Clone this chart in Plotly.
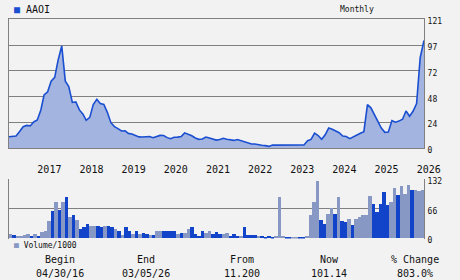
import pandas as pd
import plotly.graph_objects as go

# ---------------- data ----------------
ticker = "AAOI"
period = "Monthly"

price_dates = list(pd.date_range("2016-04-30", periods=119, freq=pd.offsets.MonthEnd()).strftime("%Y-%m-%d")) + ["2026-03-05"]
price = [10.9, 10.9, 11.5, 15.7, 20.3, 21.5, 21.0, 24.7, 26.5, 36.0, 50.0, 53.0,
         63.0, 66.5, 83.0, 96.0, 63.0, 58.0, 43.0, 43.5, 36.0, 32.0, 26.2, 29.0,
         41.0, 46.0, 42.0, 41.2, 33.5, 24.0, 20.3, 18.5, 16.2, 16.3, 14.0, 13.5,
         12.0, 10.7, 10.6, 10.6, 11.0, 10.0, 11.0, 12.1, 12.0, 10.0, 9.0, 10.3,
         10.5, 11.0, 14.5, 13.5, 11.8, 9.7, 8.4, 8.8, 10.6, 9.6, 8.4, 7.7,
         8.2, 9.4, 8.4, 7.6, 7.4, 8.2, 7.0, 6.0, 5.3, 4.0, 4.0, 3.1,
         2.8, 2.5, 1.8, 3.0, 3.1, 3.1, 3.1, 3.1, 3.1, 3.1, 3.1, 3.1,
         3.1, 7.1, 8.3, 14.2, 12.0, 8.5, 12.7, 19.0, 17.9, 16.3, 14.6, 11.5,
         11.0, 9.1, 10.9, 12.5, 14.1, 15.6, 41.0, 38.0, 31.5, 24.5, 19.0, 15.0,
         15.2, 26.0, 24.5, 25.5, 27.3, 35.0, 30.0, 34.7, 42.0, 85.0, 98.4, 101.14]

vol_months = list(pd.date_range("2016-05-31", periods=119, freq=pd.offsets.MonthEnd()).strftime("%Y-%m"))
volume = [10.4, 8.2, 6.0, 5.0, 8.2, 10.4, 4.5, 10.4, 4.5, 13.4, 17.0, 37.8,
          60.0, 80.0, 62.0, 80.0, 91.0, 46.7, 51.0, 40.0, 21.6, 24.5, 32.7, 26.7,
          27.5, 26.7, 26.0, 26.7, 27.5, 24.5, 21.6, 15.6, 8.2, 24.5, 17.0, 10.4,
          15.6, 10.4, 11.9, 10.4, 8.2, 8.2, 15.6, 17.0, 16.0, 17.0, 15.6, 17.0,
          9.6, 12.0, 12.0, 21.6, 24.5, 10.4, 6.0, 15.6, 12.0, 17.0, 9.6, 14.0,
          9.6, 9.6, 12.0, 6.0, 9.6, 6.0, 4.5, 24.5, 8.2, 8.2, 8.2, 4.5,
          4.5, 3.0, 4.5, 1.5, 6.0, 91.0, 4.5, 1.5, 1.5, 1.5, 1.5, 1.5,
          1.0, 4.5, 51.0, 80.0, 126.7, 41.5, 32.7, 54.0, 67.5, 55.0, 91.0, 37.8,
          35.6, 43.7, 30.4, 43.7, 46.7, 52.6, 52.6, 93.3, 77.0, 57.8, 77.0, 102.0,
          75.0, 80.0, 113.0, 95.6, 115.6, 99.0, 117.8, 106.7, 106.7, 104.4, 108.0]
vol_up = [0, 1, 0, 0, 0, 0, 1, 0, 1, 0, 0, 0,
          1, 0, 1, 0, 1, 0, 1, 0, 1, 1, 1, 0,
          0, 1, 1, 0, 1, 1, 0, 1, 0, 1, 1, 0,
          1, 0, 1, 1, 0, 1, 0, 0, 1, 1, 1, 1,
          0, 1, 0, 0, 1, 1, 1, 1, 0, 0, 1, 1,
          1, 0, 0, 1, 1, 1, 0, 1, 1, 1, 1, 0,
          1, 1, 1, 1, 0, 0, 0, 1, 1, 0, 0, 1,
          1, 0, 0, 0, 0, 1, 1, 0, 0, 1, 0, 1,
          1, 0, 1, 0, 0, 0, 0, 0, 1, 1, 1, 1,
          1, 0, 0, 1, 0, 0, 0, 1, 0, 0, 0]

price_ticks = [0, 24.2, 48.4, 72.6, 96.8, 121]
price_tick_text = ["0", "24", "48", "72", "97", "121"]
vol_ticks = [0, 66, 132]
years = list(range(2017, 2027))

summary_labels = ["Begin", "End", "From", "Now", "% Change"]
summary_values = ["04/30/16", "03/05/26", "11.200", "101.14", "803.0%"]

# ---------------- style ----------------
W, H = 460, 280
L, R, T, B = 9, 36, 19, 41
PW, PH = W - L - R, H - T - B
BG = "#f2f2f2"
GRID = "#808080"
LINE = "#1a4fd1"
FILL = "#a3b4e0"
DARK = "#1144c8"
LIGHT = "#8898c4"
FONT = "DejaVu Sans Mono"


def px_x(x):
    return (x - L) / PW


def px_y(y):
    return (H - B - y) / PH


fig = go.Figure()
fig.add_trace(go.Scatter(x=price_dates, y=price, mode="lines",
                         line=dict(color=LINE, width=1.6),
                         fill="tozeroy", fillcolor=FILL,
                         xaxis="x", yaxis="y", showlegend=False, hoverinfo="skip"))
fig.add_trace(go.Bar(x=vol_months, y=volume,
                     marker=dict(color=[DARK if u else LIGHT for u in vol_up], line=dict(width=0)),
                     xaxis="x2", yaxis="y2", showlegend=False, hoverinfo="skip"))

axfont = dict(family=FONT, size=8, color="#111111")
fig.update_layout(
    width=W, height=H, margin=dict(l=L, r=R, t=T, b=B),
    paper_bgcolor=BG, plot_bgcolor=BG, bargap=0,
    xaxis=dict(type="date", domain=[0, 1], anchor="y",
               range=["2016-04-30", "2026-03-05"],
               tickvals=[f"{y}-01-01" for y in years], ticktext=[str(y) for y in years],
               ticklabelshift=12, ticklabelstandoff=12, ticks="",
               tickfont=dict(family=FONT, size=10, color="#111111"),
               showgrid=False, showline=True, mirror=True, linecolor=GRID, linewidth=1,
               zeroline=False),
    yaxis=dict(domain=[px_y(148.3), px_y(19.3)], anchor="x", side="right",
               range=[0, 121], tickvals=price_ticks, ticktext=price_tick_text,
               tickfont=axfont, ticks="", ticklabelshift=2, ticklabelstandoff=1,
               showgrid=True, gridcolor=GRID, gridwidth=1,
               showline=True, mirror=True, linecolor=GRID, linewidth=1, zeroline=False),
    xaxis2=dict(type="category", domain=[0, 1], anchor="y2",
                range=[-0.5, len(volume) - 0.5], showticklabels=False, ticks="",
                showgrid=False, showline=False, zeroline=False),
    yaxis2=dict(domain=[px_y(238.5), px_y(179.3)], anchor="x2", side="right",
                range=[0, 132], tickvals=vol_ticks, tickfont=axfont, ticks="",
                ticklabelshift=2, ticklabelstandoff=1,
                showgrid=True, gridcolor=GRID, gridwidth=1,
                showline=True, mirror=True, linecolor=GRID, linewidth=1, zeroline=False),
)

ann = []
ann.append(dict(text=f"<span style='color:{LINE}'>■</span> {ticker}", x=px_x(12), y=px_y(9),
                xanchor="left", yanchor="middle", font=dict(family=FONT, size=10, color="#111111")))
ann.append(dict(text=period, x=px_x(357), y=px_y(9), xanchor="center", yanchor="middle",
                font=dict(family=FONT, size=8, color="#111111")))
ann.append(dict(text=f"<span style='color:{LIGHT}'>■</span> Volume/1000", x=px_x(12), y=px_y(245),
                xanchor="left", yanchor="middle", font=dict(family=FONT, size=8, color="#111111")))
centers = [60, 146, 242, 329, 415]
for cx, lab, val in zip(centers, summary_labels, summary_values):
    ann.append(dict(text=lab, x=px_x(cx), y=px_y(259), xanchor="center", yanchor="middle",
                    font=dict(family=FONT, size=10, color="#111111")))
    ann.append(dict(text=val, x=px_x(cx), y=px_y(273), xanchor="center", yanchor="middle",
                    font=dict(family=FONT, size=10, color="#111111")))
for a in ann:
    a.update(xref="paper", yref="paper", showarrow=False)
fig.update_layout(annotations=ann)

fig.write_html("out.html")
